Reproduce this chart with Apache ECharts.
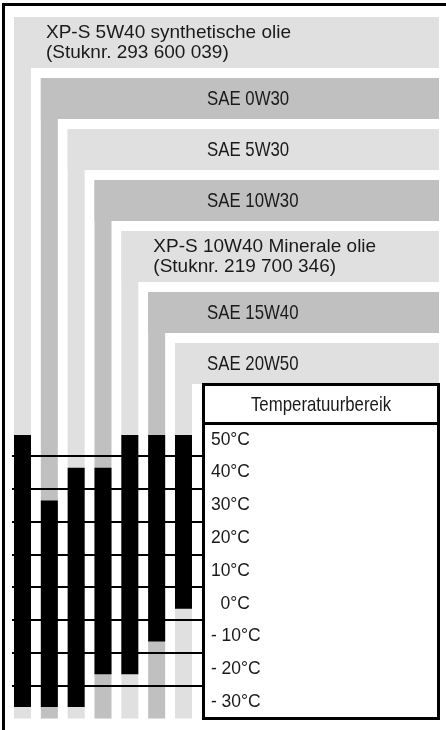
<!DOCTYPE html>
<html>
<head>
<meta charset="utf-8">
<title>Olieviscositeit en temperatuurbereik</title>
<script src="https://cdn.jsdelivr.net/npm/echarts@6/dist/echarts.min.js"></script>
<style>
  html, body { margin: 0; padding: 0; background: #fff; }
  #chart { width: 446px; height: 730px; }
</style>
</head>
<body>
<div id="chart"></div>
<script>
// Oil grades, one column each
const oilNames = [
  'XP-S 5W40 synthetische olie\n(Stuknr. 293 600 039)',
  'SAE 0W30',
  'SAE 5W30',
  'SAE 10W30',
  'XP-S 10W40 Minerale olie\n(Stuknr. 219 700 346)',
  'SAE 15W40',
  'SAE 20W50'
];
// Usable outside temperature per grade (°C)
const tempLow  = [-30, -30, -30, -20, -20, -10, 0];
const tempHigh = [ 50,  30,  40,  40,  50,  50, 50];

// Temperature scale shown in the table
const tempTicks = [50, 40, 30, 20, 10, 0, -10, -20, -30];
const tempTickLabels = ['50°C', '40°C', '30°C', '20°C', '10°C', '  0°C', '- 10°C', '- 20°C', '- 30°C'];
const tableTitle = 'Temperatuurbereik';

// ---- layout & style ----
const W = 446, H = 730;
const Y_MIN = -35, Y_MAX = 55, Y_STEP = 5;
const BAND_TOP = 17, BAND_GAP = 10, BAND_H = 41, EXTRA_LINE_H = 10, BAND_RIGHT = 439;
const BAR_RATIO = 0.634, RANGE_PAD = 5;
const BAND_COLORS = ['#e0e0e0', '#c0c0c0'];
const INK = '#1a1a1a';
const BOX = { x1: 203.5, x2: 438.5, y1: 384.5, y2: 718.5, head: 423.5 };
const SEP_X1 = 12;
const FONT = '"Liberation Sans", Arial, sans-serif';
const CONDENSE = 0.8;   // horizontal squeeze for the condensed captions

// vertical position of each grade's header band (stacked, taller for 2-line names)
const bandTops = [], bandHeights = [];
{
  let y = BAND_TOP;
  oilNames.forEach(name => {
    const lines = name.split('\n').length;
    const h = BAND_H + (lines - 1) * EXTRA_LINE_H;
    bandTops.push(y);
    bandHeights.push(h);
    y += h + BAND_GAP;
  });
}

// separators sit halfway between neighbouring temperature ticks
const separators = [];
for (let k = 0; k < tempTicks.length - 1; k++) {
  separators.push([0, (tempTicks[k] + tempTicks[k + 1]) / 2]);
}

const chart = echarts.init(document.getElementById('chart'), null, { renderer: 'canvas' });

function renderBand(params, api) {
  const i = api.value(0);
  const cx = api.coord([i, 0])[0];
  const w = api.size([1, 0])[0] * BAR_RATIO;
  const left = cx - w / 2;
  const top = bandTops[i];
  const h = bandHeights[i];
  const bottom = api.coord([i, Y_MIN])[1];
  const color = BAND_COLORS[i % 2];
  const name = oilNames[i];
  const twoLine = name.indexOf('\n') >= 0;
  return {
    type: 'group',
    children: [
      { type: 'rect', shape: { x: left, y: top, width: BAND_RIGHT - left, height: h }, style: { fill: color } },
      { type: 'rect', shape: { x: left, y: top, width: w, height: bottom - top }, style: { fill: color } },
      {
        type: 'text',
        x: twoLine ? left + 32 : 207,
        y: top + h / 2 + (twoLine ? 0.5 : 0.5),
        scaleX: twoLine ? 1 : CONDENSE,
        style: {
          text: name,
          x: 0, y: 0,
          fill: INK,
          font: (twoLine ? '19px ' : '21px ') + FONT,
          lineHeight: 19.5,
          align: 'left',
          verticalAlign: 'middle'
        }
      }
    ]
  };
}

function renderRange(params, api) {
  const i = api.value(0);
  const cx = api.coord([i, 0])[0];
  const w = api.size([1, 0])[0] * BAR_RATIO;
  const yTop = api.coord([i, api.value(2)])[1] - RANGE_PAD;
  const yBot = api.coord([i, api.value(1)])[1] + RANGE_PAD;
  return {
    type: 'rect',
    shape: { x: cx - w / 2, y: yTop, width: w, height: yBot - yTop },
    style: { fill: '#000' }
  };
}

function renderSeparator(params, api) {
  const y = Math.round(api.coord([0, api.value(1)])[1]);
  return {
    type: 'line',
    shape: { x1: SEP_X1, y1: y, x2: BOX.x1, y2: y },
    style: { stroke: '#000', lineWidth: 2 }
  };
}

const gridRight = W - 196.9;
const option = {
  animation: false,
  backgroundColor: '#fff',
  grid: { left: 9.08, right: gridRight, top: BOX.head, bottom: H - BOX.y2, containLabel: false, outerBoundsMode: 'none' },
  xAxis: {
    type: 'category',
    data: oilNames,
    show: false
  },
  yAxis: {
    type: 'value',
    min: Y_MIN, max: Y_MAX, interval: Y_STEP,
    position: 'right',
    z: 10,
    axisLine: { show: false },
    axisTick: { show: false },
    splitLine: { show: false },
    axisLabel: {
      margin: 14,
      color: INK,
      fontFamily: FONT,
      fontSize: 17.5,
      align: 'left',
      showMinLabel: true,
      showMaxLabel: true,
      formatter: v => {
        const k = tempTicks.indexOf(v);
        return k >= 0 ? tempTickLabels[k] : '';
      }
    }
  },
  graphic: [
    { type: 'line', z: 5, shape: { x1: 2, y1: 4.5, x2: W, y2: 4.5 }, style: { stroke: '#000', lineWidth: 3 } },
    { type: 'line', z: 5, shape: { x1: 3.5, y1: 3, x2: 3.5, y2: H }, style: { stroke: '#000', lineWidth: 3 } },
    {
      type: 'rect', z: 5,
      shape: { x: BOX.x1, y: BOX.y1, width: BOX.x2 - BOX.x1, height: BOX.y2 - BOX.y1 },
      style: { fill: '#fff', stroke: '#000', lineWidth: 3 }
    },
    { type: 'line', z: 5, shape: { x1: BOX.x1, y1: BOX.head, x2: BOX.x2, y2: BOX.head }, style: { stroke: '#000', lineWidth: 3 } },
    {
      type: 'text', z: 6,
      x: (BOX.x1 + BOX.x2) / 2, y: (BOX.y1 + BOX.head) / 2 + 1,
      scaleX: CONDENSE,
      style: {
        text: tableTitle,
        x: 0, y: 0,
        fill: INK, font: '21px ' + FONT,
        align: 'center', verticalAlign: 'middle'
      }
    }
  ],
  series: [
    {
      type: 'custom', name: 'bands', z: 1,
      renderItem: renderBand,
      data: oilNames.map((_, i) => [i, tempLow[i], tempHigh[i]])
    },
    {
      type: 'custom', name: 'range', z: 2,
      renderItem: renderRange,
      data: oilNames.map((_, i) => [i, tempLow[i], tempHigh[i]])
    },
    {
      type: 'custom', name: 'separators', z: 3,
      renderItem: renderSeparator,
      data: separators
    }
  ]
};
chart.setOption(option);
</script>
</body>
</html>
